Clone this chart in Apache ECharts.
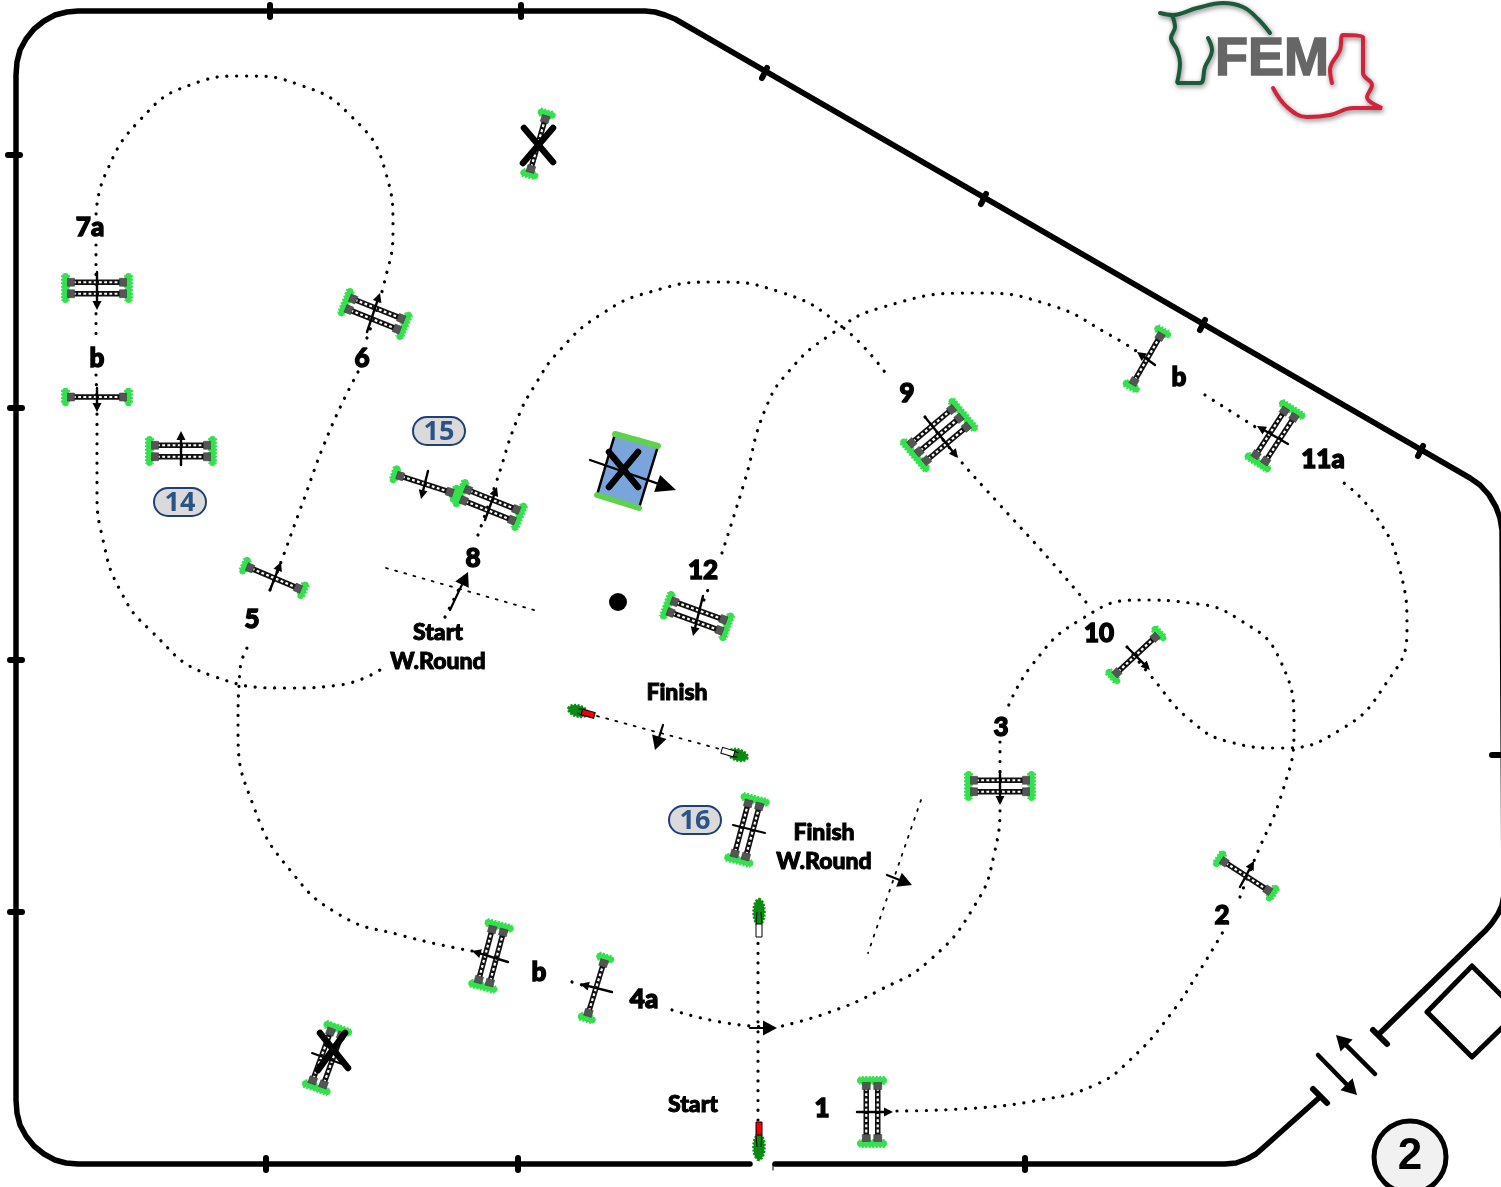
<!DOCTYPE html>
<html><head><meta charset="utf-8">
<style>html,body{margin:0;padding:0;background:#fff}#c{width:1501px;height:1187px}</style>
<script src="https://cdn.jsdelivr.net/npm/echarts@6/dist/echarts.min.js"></script>
</head><body><div id="c"></div>
<script>
// fence
const fenceMain=[[750,1164],[78,1164],[66,1163],[55,1160],[44,1154],[34,1146],[26,1136],[20,1125],[17,1113],[16,1100],[16,75],[17,62],[20,50],[26,39],[34,29],[44,21],[55,15],[67,12],[78,11],[645,11],[655,12],[665,15],[675,19],[1470,478],[1480,485],[1489,495],[1496,507],[1500,518],[1502,530],[1504,895],[1502,905],[1498,914],[1492,923],[1486,930],[1380,1033]];
const fenceLow=[[775,1164],[1225,1164],[1236,1163],[1247,1159],[1256,1154],[1264,1147],[1320,1097]];
const fenceTicks=[[270,5,270,17],[521,5,521,17],[762,78,767,68],[981,204,986,194],[1200,330,1205,320],[1418,456,1423,446],[8,155,20,155],[10,408,22,408],[10,660,22,660],[10,912,22,912],[266,1158,266,1170],[518,1158,518,1170],[1025,1158,1025,1170],[1492,755,1501,755],[1373,1030,1387,1044],[1313,1089,1327,1103]];
const gateDiamond=[[1472,966],[1427,1012],[1472,1057],[1518,1012],[1472,966]];
const startMark=[[773,1164,773,1170]];
// course paths
const path1to2=[[897,1111],[960,1109],[1040,1100],[1095,1085],[1130,1060],[1170,1015],[1200,970],[1224,930]];
const path2to3=[[1240,897],[1254,861],[1283,790],[1294,730],[1280,660],[1240,620],[1190,603],[1140,600],[1080,620],[1032,665],[1006,712]];
const path3to4=[[1000,742],[1000,800],[994,855],[975,905],[930,960],[880,990],[830,1012],[778,1027]];
const path4aIn=[[672,1010],[720,1022],[765,1027]];
const path4b=[[572,982],[582,985]];
const path4to5=[[472,951],[400,935],[340,915],[290,870],[255,810],[238,730],[240,670],[252,640]];
const path5to6=[[270,590],[281,562],[300,510],[330,430],[358,372]];
const path6to7=[[367,338],[385,280],[393,230],[385,170],[350,115],[300,85],[245,76],[190,85],[140,120],[105,175],[96,215]];
const path7ab=[[96,245],[96,340]];
const path7bOn=[[96,375],[97,420],[97,490],[103,540],[120,590],[150,630],[210,675],[290,688],[340,685],[380,670]];
const pathWStart=[[445,617],[460,587]];
const path8to9=[[478,535],[497,480],[517,420],[535,385],[560,350],[600,315],[650,292],[715,282],[780,292],[840,325],[887,375]];
const path9to10=[[925,417],[958,458],[1000,505],[1050,560],[1090,607]];
const path10on=[[1127,647],[1150,675],[1190,720],[1230,742],[1280,748],[1340,730],[1385,685],[1407,630],[1400,570],[1375,515],[1340,480]];
const path11=[[1205,395],[1257,428]];
const path12low=[[704,600],[709,587]];
const path12=[[722,553],[745,480],[765,410],[790,370],[830,335],[880,308],[975,293],[1050,305],[1110,335],[1142,355]];
const startLine=[[758,1120],[758,937]];
const wStartLine=[[386,568],[541,612]];
const wFinishLine=[[921,800],[868,953]];
const finishLine=[[597,716],[720,749]];
// jumps: centre x, centre y, rail angle
const singles=[[97,397,0],[425,484,18],[274,578,23],[1147,359,-60],[1136,655,-43],[1246,876,33],[596,988,-73],[538,144,-74]];
const oxers=[[97,288,0],[181,451,0],[375,314,22],[490,505,22],[697,616,20],[1275,436,-57],[1000,786,0],[747,830,-75],[872,1112,90],[491,956,-75],[327,1058,-70]];
const triples=[[939,435,-40]];
// arrows
const arrowsSmall=[[97,272,97,310],[97,388,97,412],[181,465,181,431],[367,332,380,293],[428,471,421,499],[485,520,497,487],[270,590,281,562],[703,596,693,636],[925,417,958,458],[1155,365,1137,352],[1288,444,1257,426],[1127,647,1150,670],[1000,772,1000,805],[1240,887,1254,861],[857,1112,893,1112],[508,962,472,951],[612,992,580,984]];
const arrowsMid=[[450,610,468,572],[663,725,655,750],[887,875,912,885],[750,1028,777,1028]];
const arrowsLarge=[[590,460,676,490]];
const arrowsGate=[[1375,1074,1336,1035],[1318,1055,1357,1095]];
const plainBars=[[733,825,765,833],[312,1053,350,1067]];
// water
const waterRect=[[615,434],[658,446],[639,508],[597,495]];
const waterGreen=[[615,434,658,446],[597,495,639,508]];
const crosses=[[524,128,553,162],[523,163,553,128],[320,1033,348,1068],[345,1033,318,1070],[609,452,638,487],[638,452,609,487]];
const dot=[[618,602]];
// flags: x, y, angle, bar length
const redFlags=[[759,1147,-90,25],[578,711,15,17]];
const whiteFlags=[[759,912,90,25],[738,755,196,17]];
// texts
const bigLabels=[[90,228,'7a'],[97,359,'b'],[362,359,'6'],[252,620,'5'],[473,559,'8'],[703,571,'12'],[907,394,'9'],[1179,378,'b'],[1323,460,'11a'],[1099,634,'10'],[1001,728,'3'],[1222,916,'2'],[539,973,'b'],[644,1000,'4a'],[822,1109,'1']];
const wordLabels=[[438,633,'Start'],[438,662,'W.Round'],[677,693,'Finish'],[824,833,'Finish'],[824,862,'W.Round'],[693,1105,'Start']];
const pills=[[180,502,'14'],[439,431,'15'],[695,820,'16']];
const roundBadge=[[1410,1157,'2']];
const logoHorse=[[1160,13],[1173,15],[1197,8],[1223,3],[1243,7],[1258,19],[1270,33]];
const logoNeck=[[1172,15],[1175,27],[1171,38],[1177,50],[1180,63],[1177,83],[1200,83],[1205,67],[1212,50],[1208,38]];
const logoRed=[[1273,88],[1287,107],[1307,117],[1330,115],[1353,108],[1382,108],[1367,97],[1372,85],[1363,73],[1363,37],[1343,35],[1340,50],[1330,70],[1332,83]];
const logoText=[[1272,60,'FEM']];

const dotted=(d)=>({type:'line',data:d,smooth:0.5,showSymbol:false,silent:true,z:2,
  lineStyle:{color:'#000',width:3.2,type:[0.1,9.7],cap:'round'}});
const dashedFine=(d)=>({type:'line',data:d,showSymbol:false,silent:true,z:2,
  lineStyle:{color:'#000',width:1.8,type:[2,7.5],cap:'round'}});
const solid=(d,w,cap)=>({type:'line',data:d,showSymbol:false,silent:true,z:4,
  lineStyle:{color:'#000',width:w,cap:cap||'round',join:'round'}});
const logoLine=(d,c)=>({type:'line',data:d,smooth:0.4,showSymbol:false,silent:true,z:3,
  lineStyle:{color:c,width:4,cap:'round',shadowColor:'rgba(0,0,0,.5)',shadowBlur:5,shadowOffsetX:1,shadowOffsetY:2}});
const custom=(d,fn,z)=>({type:'custom',data:d,silent:true,z:z||5,clip:false,encode:{x:0,y:1},renderItem:fn});

const segments=(w,c)=>(p,api)=>{
  const a=api.coord([api.value(0),api.value(1)]),b=api.coord([api.value(2),api.value(3)]);
  return {type:'line',shape:{x1:a[0],y1:a[1],x2:b[0],y2:b[1]},style:{stroke:c,lineWidth:w,lineCap:'round'}};
};
const arrow=(w,hl,hw)=>(p,api)=>{
  const a=api.coord([api.value(0),api.value(1)]),b=api.coord([api.value(2),api.value(3)]);
  const t=Math.atan2(b[1]-a[1],b[0]-a[0]),ux=Math.cos(t),uy=Math.sin(t);
  const bx=b[0]-ux*hl,by=b[1]-uy*hl;
  return {type:'group',children:[
    {type:'line',shape:{x1:a[0],y1:a[1],x2:bx,y2:by},style:{stroke:'#000',lineWidth:w,lineCap:'round'}},
    {type:'polygon',shape:{points:[[b[0],b[1]],[bx-uy*hw/2,by+ux*hw/2],[bx+uy*hw/2,by-ux*hw/2]]},style:{fill:'#000'}}
  ]};
};
const GREEN='#35e04f';
const jump=(n)=>(p,api)=>{
  const c=api.coord([api.value(0),api.value(1)]),gap=11.5,h=31.5,kids=[],span=(n-1)*gap;
  [-h,h].forEach(s=>{
    kids.push({type:'line',shape:{x1:s,y1:-span/2-7,x2:s,y2:span/2+7},style:{stroke:GREEN,lineWidth:9,lineDash:[2,1.5]}});
    kids.push({type:'line',shape:{x1:s,y1:-span/2-6,x2:s,y2:span/2+6},style:{stroke:GREEN,lineWidth:6.5,lineCap:'round'}});
  });
  for(let i=0;i<n;i++){
    const y=-span/2+i*gap;
    kids.push({type:'line',shape:{x1:-24,y1:y,x2:24,y2:y},style:{stroke:'#111',lineWidth:5.5}});
    kids.push({type:'line',shape:{x1:-24,y1:y,x2:24,y2:y},style:{stroke:'#fff',lineWidth:2.2,lineDash:[2.8,2.4]}});
    [-1,1].forEach(s=>kids.push({type:'rect',shape:{x:s*26-3.5,y:y-4,width:7,height:8},style:{fill:'#555',stroke:'#333',lineWidth:.5}}));
  }
  return {type:'group',x:c[0],y:c[1],rotation:-api.value(2)*Math.PI/180,children:kids};
};
const flag=(col)=>(p,api)=>{
  const c=api.coord([api.value(0),api.value(1)]),L=api.value(3);
  return {type:'group',x:c[0],y:c[1],rotation:-api.value(2)*Math.PI/180,children:[
    {type:'ellipse',shape:{cx:0,cy:0,rx:L>20?13:10,ry:L>20?5.5:5.5},style:{fill:'#0a8a12',stroke:'#0a8a12',lineWidth:2.5,lineDash:[2,1.5]}},
    {type:'rect',shape:{x:L-13,y:-3,width:13,height:6},style:{fill:col,stroke:'#000',lineWidth:1}},
    {type:'line',shape:{x1:0,y1:-2,x2:L-13,y2:-3},style:{stroke:'#000',lineWidth:1}},
    {type:'line',shape:{x1:0,y1:2,x2:L-13,y2:3},style:{stroke:'#000',lineWidth:1}}
  ]};
};
const textItem=(font,fill,extra)=>(p,api)=>{
  const c=api.coord([api.value(0),api.value(1)]);
  return {type:'text',x:c[0],y:c[1],style:Object.assign({text:api.value(2),font:font,fill:fill,align:'center',verticalAlign:'middle'},extra||{})};
};
const pill=(p,api)=>{
  const c=api.coord([api.value(0),api.value(1)]);
  return {type:'group',children:[
    {type:'rect',shape:{x:c[0]-26,y:c[1]-14,width:52,height:28,r:14},style:{fill:'#dadada',stroke:'#1f3f77',lineWidth:2}},
    {type:'text',x:c[0],y:c[1]+1,style:{text:api.value(2),font:'bold 27px "Open Sans"',fill:'#2a5488',align:'center',verticalAlign:'middle'}}
  ]};
};
const badge=(p,api)=>{
  const c=api.coord([api.value(0),api.value(1)]);
  return {type:'group',children:[
    {type:'circle',shape:{cx:c[0],cy:c[1],r:36},style:{fill:'#f1f1f1',stroke:'#000',lineWidth:5}},
    {type:'text',x:c[0],y:c[1],style:{text:api.value(2),font:'bold 44px "Liberation Sans"',fill:'#000',align:'center',verticalAlign:'middle'}}
  ]};
};

const option={
  animation:false,backgroundColor:'#fff',
  grid:{left:0,right:0,top:0,bottom:0},
  xAxis:{type:'value',min:0,max:1501,show:false},
  yAxis:{type:'value',min:0,max:1187,inverse:true,show:false},
  series:[
    solid(fenceMain,5.5),solid(fenceLow,5.5),solid(gateDiamond,5),
    custom(fenceTicks,segments(6,'#000'),4),
    custom(startMark,segments(1.5,'#555'),4),
    ...[path1to2,path2to3,path3to4,path4aIn,path4b,path4to5,path5to6,path6to7,path7ab,path7bOn,pathWStart,path8to9,path9to10,path10on,path11,path12low,path12,startLine].map(dotted),
    dashedFine(wStartLine),dashedFine(wFinishLine),dashedFine(finishLine),
    custom(singles,jump(1)),custom(oxers,jump(2)),custom(triples,jump(3)),
    {type:'custom',silent:true,z:5,data:[0],renderItem:(p,api)=>({type:'polygon',
      shape:{points:waterRect.map(q=>api.coord(q))},style:{fill:'#7aa4dc',stroke:'#000',lineWidth:2.5}})},
    custom(waterGreen,segments(6,'#5fd14f'),6),
    custom(plainBars,segments(2,'#000'),7),
    custom(arrowsSmall,arrow(2.4,9,9),7),
    custom(arrowsMid,arrow(2.2,14,15),7),
    custom(arrowsLarge,arrow(2.2,20,18),7),
    custom(arrowsGate,arrow(4.5,15,17),7),
    custom(crosses,segments(6.5,'#000'),8),
    {type:'scatter',data:dot,symbolSize:18,silent:true,itemStyle:{color:'#000',opacity:1},z:5},
    custom(redFlags,flag('#f00000'),6),custom(whiteFlags,flag('#fff'),6),
    custom(bigLabels,textItem('900 26px Lato','#000',{stroke:'#000',lineWidth:1.4}),9),
    custom(wordLabels,textItem('900 23px Lato','#000',{stroke:'#000',lineWidth:1}),9),
    custom(pills,pill,9),
    custom(roundBadge,badge,9),
    logoLine(logoHorse,'#1c5a3e'),logoLine(logoNeck,'#1c5a3e'),logoLine(logoRed,'#d2233c'),
    custom(logoText,textItem('bold 54px "Liberation Sans"','#666',{stroke:'#666',lineWidth:1.5,shadowColor:'rgba(0,0,0,.6)',shadowBlur:5,shadowOffsetX:2,shadowOffsetY:2}),9)
  ]
};
echarts.init(document.getElementById('c'),null,{renderer:'canvas'}).setOption(option);
</script></body></html>
